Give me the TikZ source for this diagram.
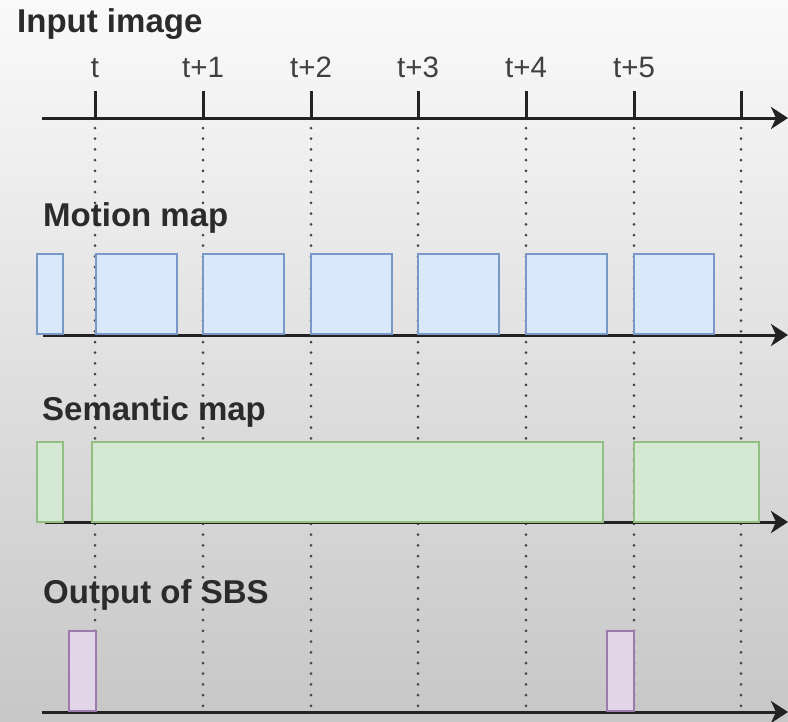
\documentclass[tikz,border=0pt]{standalone}
\usepackage{fontspec}
\setmainfont{Liberation Sans}
\usetikzlibrary{arrows.meta}
\definecolor{axisgray}{HTML}{222222}
\definecolor{dotgray}{HTML}{444444}
\definecolor{txt}{HTML}{2B2B2B}
\definecolor{bluefill}{HTML}{DAE8FC}
\definecolor{bluedraw}{HTML}{7A98C6}
\definecolor{greenfill}{HTML}{D5E8D4}
\definecolor{greendraw}{HTML}{93BE82}
\definecolor{purplefill}{HTML}{E1D5E7}
\definecolor{purpledraw}{HTML}{9C7BAC}
\tikzset{
  heading/.style={anchor=base west, inner sep=0pt, text=txt,
    font=\fontsize{33}{36}\selectfont\bfseries},
  ticklabel/.style={anchor=base, inner sep=0pt, text=txt!90!white,
    font=\fontsize{29.5}{31}\selectfont},
  timeaxis/.style={draw=axisgray, line width=3pt,
    -{Stealth[length=17pt, width=22pt, inset=5pt]}},
  tickmark/.style={draw=axisgray, line width=3pt},
  guide/.style={draw=dotgray, line width=3pt, line cap=round,
    dash pattern=on 0pt off 10.7pt},
  bar/.style={anchor=south west, inner sep=0pt, outer sep=0pt, line width=1.3pt},
  motionbar/.style={bar, draw=bluedraw, fill=bluefill},
  semanticbar/.style={bar, draw=greendraw, fill=greenfill},
  outputbar/.style={bar, draw=purpledraw, fill=purplefill},
}
\newcommand{\barnode}[6]{% style, name, x0, x1, ybottom, height
  \pgfmathsetmacro{\barw}{#4-#3}
  \node[#1, minimum width=\barw pt, minimum height=#6pt] (#2) at (#3,#5) {};
}
\begin{document}
\begin{tikzpicture}[x=1pt, y=-1pt]
  % backdrop with a soft vertical fade
  \shade[top color=white!98!black, bottom color=white!78!black]
    (0,0) rectangle (788,721);
  \useasboundingbox (0,0) rectangle (788,721);

  % time instants
  \foreach \i/\x in {0/95, 1/203, 2/311, 3/418, 4/526, 5/634, 6/741} {
    \coordinate (g\i top) at (\x,128);
    \coordinate (g\i bot) at (\x,711);
    \coordinate (k\i a) at (\x,91);
    \coordinate (k\i b) at (\x,118);
  }
  \foreach \i in {0,...,6} {
    \draw[guide] (g\i top) -- (g\i bot);
    \draw[tickmark] (k\i a) -- (k\i b);
  }

  % headings
  \node[heading] (hin)  at (17,32)  {Input image};
  \node[heading] (hmot) at (43,226) {Motion map};
  \node[heading] (hsem) at (42,420) {Semantic map};
  \node[heading] (hout) at (43,603) {Output of SBS};

  % instant labels
  \node[ticklabel] (l0) at (95,77)  {t};
  \node[ticklabel] (l1) at (203,77) {t+1};
  \node[ticklabel] (l2) at (311,77) {t+2};
  \node[ticklabel] (l3) at (418,77) {t+3};
  \node[ticklabel] (l4) at (526,77) {t+4};
  \node[ticklabel] (l5) at (634,77) {t+5};

  % time axes
  \coordinate (ax0s) at (42,118);  \coordinate (ax0e) at (788,118);
  \coordinate (ax1s) at (43,335);  \coordinate (ax1e) at (788,335);
  \coordinate (ax2s) at (45,522);  \coordinate (ax2e) at (788,522);
  \coordinate (ax3s) at (42,712);  \coordinate (ax3e) at (788,712);
  \foreach \i in {0,...,3} { \draw[timeaxis] (ax\i s) -- (ax\i e); }

  % motion map pulses
  \barnode{motionbar}{m0}{37}{63}{334}{80}
  \barnode{motionbar}{m1}{96}{177}{334}{80}
  \barnode{motionbar}{m2}{203}{284}{334}{80}
  \barnode{motionbar}{m3}{311}{392}{334}{80}
  \barnode{motionbar}{m4}{418}{499}{334}{80}
  \barnode{motionbar}{m5}{526}{607}{334}{80}
  \barnode{motionbar}{m6}{634}{714}{334}{80}

  % semantic map pulses
  \barnode{semanticbar}{s0}{37}{63}{522}{80}
  \barnode{semanticbar}{s1}{92}{603}{522}{80}
  \barnode{semanticbar}{s2}{634}{759}{522}{80}

  % SBS output pulses
  \barnode{outputbar}{o0}{69}{96}{711}{80}
  \barnode{outputbar}{o1}{607}{634}{711}{80}
\end{tikzpicture}
\end{document}
